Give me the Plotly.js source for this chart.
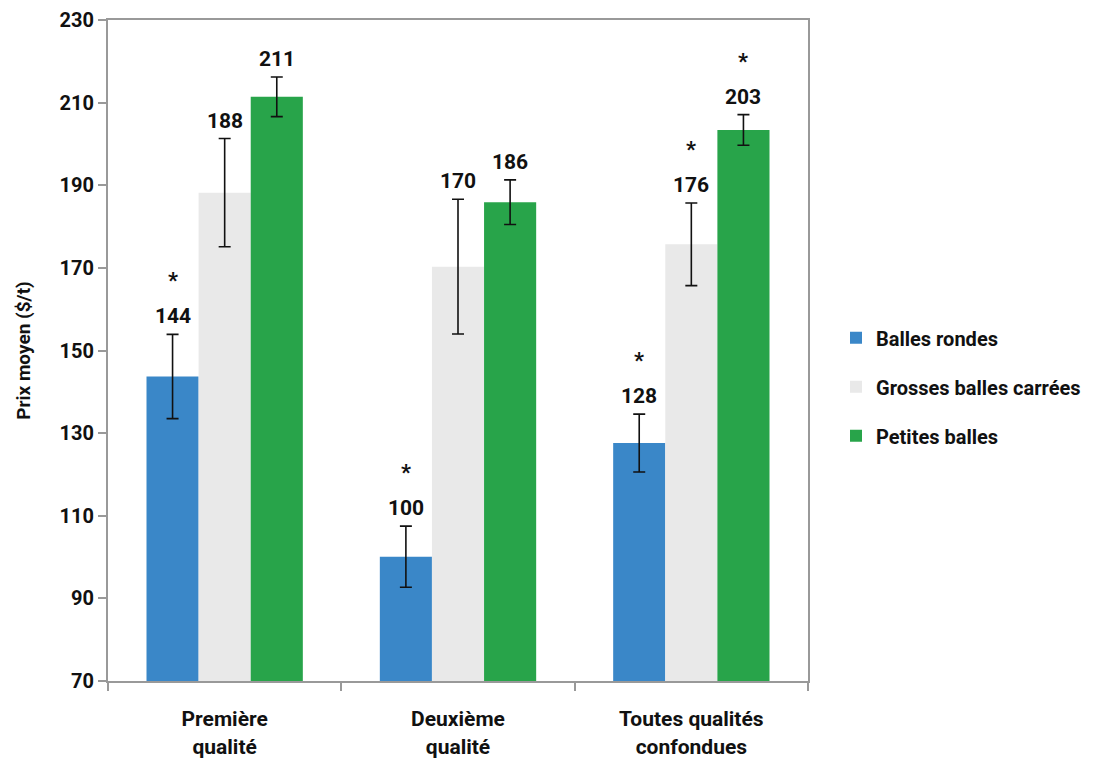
<!DOCTYPE html>
<html>
<head>
<meta charset="utf-8">
<script src="https://cdn.plot.ly/plotly-3.0.1.min.js"></script>
<style>
  html, body { margin: 0; padding: 0; background: #fff; }
  #chart { width: 1098px; height: 767px; }
</style>
</head>
<body>
<div id="chart"></div>
<script>
// Average hay price by bale type and quality class
const categories = ["Première<br>qualité", "Deuxième<br>qualité", "Toutes qualités<br>confondues"];
const seriesNames = ["Balles rondes", "Grosses balles carrées", "Petites balles"];

const ballesRondes = [143.7, 100.1, 127.6];
const grossesBalles = [188.2, 170.3, 175.7];
const petitesBalles = [211.4, 185.9, 203.4];

const errRondes = [10.2, 7.4, 7.0];
const errGrosses = [13.1, 16.3, 10.0];
const errPetites = [4.8, 5.4, 3.7];

// significance markers (asterisk above the value)
const sigRondes = [true, true, true];
const sigGrosses = [false, false, true];
const sigPetites = [false, false, true];

const colors = ["#3a87c8", "#e9e9e9", "#28a44a"];
const FONT = "Roboto, 'Liberation Sans', sans-serif";
const BARGAP = 0.33;

const values = [ballesRondes, grossesBalles, petitesBalles];
const errors = [errRondes, errGrosses, errPetites];
const sigs = [sigRondes, sigGrosses, sigPetites];

const traces = values.map((vals, k) => ({
  type: "bar",
  name: seriesNames[k],
  legendgroup: "g" + k,
  x: categories,
  y: vals,
  marker: { color: colors[k] },
  error_y: { type: "data", array: errors[k], visible: true, color: "#111", thickness: 1.6, width: 6 },
  hoverinfo: "skip"
}));

// value labels placed just above each error bar; asterisk further up when significant
const annotations = [];
const slot = (1 - BARGAP) / 3;
values.forEach((vals, k) => {
  vals.forEach((v, i) => {
    const base = {
      x: i + (k - 1) * slot,
      y: v + errors[k][i],
      xref: "x", yref: "y",
      showarrow: false,
      yanchor: "bottom",
      align: "center"
    };
    annotations.push(Object.assign({}, base, {
      text: String(Math.round(v)),
      yshift: 4,
      font: { family: FONT, size: 21, color: "#111", weight: "bold" }
    }));
    if (sigs[k][i]) {
      annotations.push(Object.assign({}, base, {
        text: "*",
        yshift: 39,
        font: { family: FONT, size: 22, color: "#111", weight: "bold" }
      }));
    }
  });
});

const layout = {
  width: 1098,
  height: 767,
  margin: { l: 108, r: 290, t: 20, b: 86, autoexpand: false },
  paper_bgcolor: "#fff",
  plot_bgcolor: "#fff",
  barmode: "group",
  bargap: BARGAP,
  bargroupgap: 0,
  font: { family: FONT, color: "#111", weight: "bold" },
  showlegend: true,
  legend: {
    x: 1.04, xanchor: "left",
    y: 0.445, yanchor: "middle",
    font: { family: FONT, size: 20, color: "#111", weight: "bold" },
    tracegroupgap: 20,
    itemwidth: 30
  },
  xaxis: {
    type: "category",
    showline: true, linecolor: "#999", linewidth: 2, mirror: true,
    ticks: "outside", tickson: "boundaries", ticklen: 8, tickcolor: "#999", tickwidth: 2,
    ticklabelstandoff: 18,
    tickfont: { family: FONT, size: 21, color: "#111", weight: "bold" },
    showgrid: false, zeroline: false,
    fixedrange: true
  },
  yaxis: {
    range: [70, 230],
    tickvals: [70, 90, 110, 130, 150, 170, 190, 210, 230],
    showline: true, linecolor: "#999", linewidth: 2, mirror: true,
    ticks: "outside", ticklen: 8, tickcolor: "#999", tickwidth: 2,
    tickfont: { family: FONT, size: 20, color: "#111", weight: "bold" },
    showgrid: false, zeroline: false,
    title: { text: "Prix moyen ($/t)", font: { family: FONT, size: 19, color: "#111", weight: "bold" }, standoff: 24 },
    fixedrange: true
  },
  annotations: annotations
};

Plotly.newPlot("chart", traces, layout, { displayModeBar: false, staticPlot: true });
</script>
</body>
</html>
